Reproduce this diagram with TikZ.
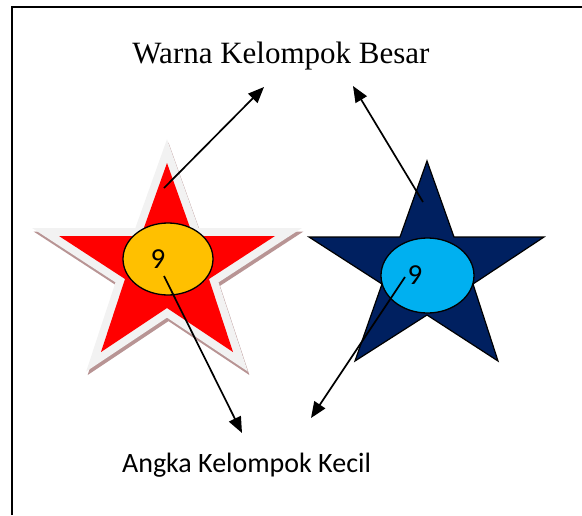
\documentclass[tikz,border=0pt]{standalone}
\usepackage{fontspec}
\setmainfont{Liberation Serif}
\newfontfamily\labelfont{Carlito}
\usetikzlibrary{arrows.meta,shapes.geometric}

\definecolor{starred}{HTML}{FF0000}
\definecolor{starnavy}{HTML}{002060}
\definecolor{haloGray}{HTML}{F2F2F2}
\definecolor{shadowBrown}{HTML}{B89494}
\definecolor{dotYellow}{HTML}{FFC000}
\definecolor{dotCyan}{HTML}{00B0F0}

\tikzset{
  pointer/.style={line width=1.7pt, -{Triangle[length=16pt,width=13pt]}},
  groupdot/.style={ellipse, draw=black, line width=1.3pt, inner sep=0pt},
  numlabel/.style={font=\labelfont\fontsize{29}{29}\selectfont, inner sep=0pt, anchor=base},
}

\begin{document}
\begin{tikzpicture}[x=1pt, y=-1pt]
\useasboundingbox (0,0) rectangle (582,515);

% outer frame (left and top edges)
\draw[line width=2pt] (12,515) -- (12,7) -- (582,7);

% left star: shadow, light halo, red body
\def\redstar{(167,163) -- (193,236) -- (275,236) -- (209,279) -- (233,352) -- (167,308) -- (101,352) -- (125,279) -- (59,236) -- (141,236) -- cycle}
\draw[shadowBrown, line width=16pt, line join=miter, shift={(1.5,3.5)}] \redstar;
\draw[haloGray, line width=16pt, line join=miter] \redstar;
\fill[starred] \redstar;

% right star: navy body with black outline
\draw[fill=starnavy, draw=black, line width=1.2pt, line join=miter]
  (427,161) -- (454,237) -- (544,237) -- (473,284) -- (498,361) -- (427,315)
  -- (355,361) -- (382,284) -- (309,237) -- (400,237) -- cycle;

% group number ellipses
\node[groupdot, fill=dotYellow, minimum width=90pt, minimum height=72pt] (dotL) at (168,259) {};
\node[groupdot, fill=dotCyan, minimum width=93pt, minimum height=75pt] (dotR) at (427.5,275.5) {};
\node[numlabel] (numL) at (158,268) {9};
\node[numlabel] (numR) at (415,284) {9};

% captions
\node[font=\fontsize{31}{31}\selectfont, inner sep=0pt, anchor=base] (title) at (281,63) {Warna Kelompok Besar};
\node[font=\labelfont\fontsize{28}{28}\selectfont, inner sep=0pt, anchor=base] (caption) at (246.5,472) {Angka Kelompok Kecil};

% arrow anchors
\coordinate (starL) at (164,188);
\coordinate (starR) at (423,202);
\coordinate (inL) at (164,276);
\coordinate (inR) at (405,277);
\coordinate (titleL) at (264,87);
\coordinate (titleR) at (353,86);
\coordinate (capL) at (242,433);
\coordinate (capR) at (311,418);

\draw[pointer] (starL) -- (titleL);
\draw[pointer] (starR) -- (titleR);
\draw[pointer] (inL) -- (capL);
\draw[pointer] (inR) -- (capR);
\end{tikzpicture}
\end{document}
